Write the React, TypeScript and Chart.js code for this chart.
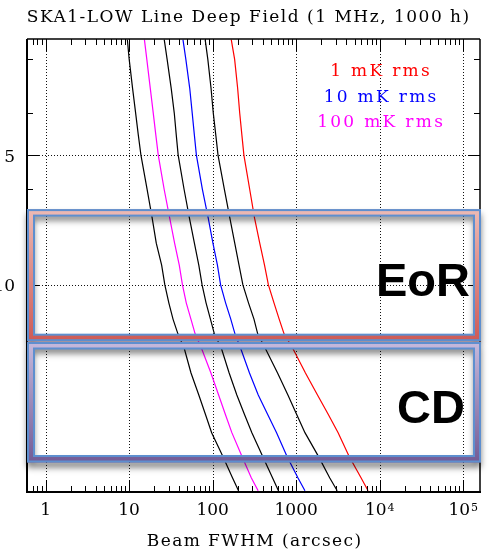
import React, { useEffect, useRef } from 'react';
import { Chart, registerables } from 'chart.js';

Chart.register(...registerables);

// ---------------- data ----------------
// redshift samples (y axis)
const Z_VALUES = [2.7, 3, 3.5, 4, 4.5, 5, 6, 7, 8, 9, 10, 11, 12, 13, 14, 16, 18, 20, 22, 25, 28, 30];

// Beam FWHM (arcsec) needed at each redshift
const FWHM_BLACK_A = [9.54, 10.03, 11.01, 11.99, 12.91, 13.86, 16.43, 18.9, 21.15, 24.53, 26.79, 29.9, 33.55, 38.5, 45.6, 55.1, 68.3, 82.3, 97.3, 132.7, 172.7, 204.1];
const FWHM_100MK = [15.26, 16.3, 17.94, 19.48, 20.92, 22.35, 26.28, 30.64, 35.05, 39.87, 43.54, 48.32, 54.98, 61.86, 73.34, 95.4, 117.9, 142.5, 169.8, 224.7, 290.0, 350.5];
const FWHM_BLACK_B = [26.35, 28.53, 31.93, 34.76, 36.73, 38.69, 45.5, 52.77, 60.5, 68.3, 74.8, 83.4, 94.1, 105.1, 126.9, 157.7, 194.8, 241.3, 294.9, 397.6, 520.4, 613.5];
const FWHM_10MK = [44.14, 47.8, 53.2, 57.0, 60.5, 63.9, 75.4, 88.6, 100.8, 114.1, 124.6, 142.9, 164.8, 185.4, 215.7, 276.1, 351.5, 457.4, 582.4, 777, 1048, 1273];
const FWHM_BLACK_C = [81.4, 87.6, 95.7, 101.9, 109.2, 116.0, 138.2, 160.8, 183.9, 206.9, 230.3, 268.6, 312.4, 346.7, 424.8, 598.5, 796.1, 1017, 1273, 1854, 2515, 3098];
const FWHM_1MK = [167.1, 183.4, 199.2, 211.0, 224.1, 236.7, 277.6, 317.6, 366.3, 417.8, 465.0, 542.3, 625.6, 717.5, 906, 1291, 1799, 2433, 3176, 4307, 5970, 7253];

const LEGEND_LABELS = ['1 mK rms', '10 mK rms', '100 mK rms'];

const X_MAJOR_TICKS = [1, 10, 100, 1000, 10000, 100000];
const X_TICK_LABELS = ['1', '10', '100', '1000', '10^4', '10^5'];
const Y_MAJOR_TICKS = [5, 10];
const Y_TICK_LABELS = ['5', '10'];
const Y_MINOR_TICKS = [3, 4, 6, 7, 8, 9, 20, 30];

// redshift ranges of the highlighted bands
const BAND_LABELS = ['EoR', 'CD'];
const BAND_Z_TOP = [6.67, 13.56];
const BAND_Z_BOTTOM = [13.5, 25.8];

const TITLE = 'SKA1-LOW Line Deep Field (1 MHz, 1000 h)';
const X_TITLE = 'Beam FWHM (arcsec)';

// ---------------- styles ----------------
const SERIF = '"DejaVu Serif", serif';
const BAND_STYLES = [
  { c0: '#ecbab5', c1: '#cd5a56', textRight: 10 },
  { c0: '#c6b9dc', c1: '#735b95', textRight: 15 },
];

function drawSpaced(ctx: CanvasRenderingContext2D, text: string, x: number, y: number, font: string, color: string, align: CanvasTextAlign, spacing: number) {
  ctx.save();
  ctx.font = font;
  ctx.fillStyle = color;
  ctx.textAlign = align;
  ctx.textBaseline = 'alphabetic';
  try { (ctx as any).letterSpacing = spacing + 'px'; } catch (e) { /* ignore */ }
  ctx.fillText(text, x + (align === 'center' ? spacing / 2 : 0), y);
  ctx.restore();
}

const framePlugin = {
  id: 'framePlugin',
  beforeDatasetsDraw(chart: any) {
    const { ctx, chartArea: a, scales } = chart;
    const xs = scales.x, ys = scales.y;
    ctx.save();
    ctx.strokeStyle = '#111';
    ctx.lineWidth = 1;
    ctx.setLineDash([1, 2]);
    for (const v of X_MAJOR_TICKS) {
      const px = Math.round(xs.getPixelForValue(v)) + 0.5;
      ctx.beginPath(); ctx.moveTo(px, a.top); ctx.lineTo(px, a.bottom); ctx.stroke();
    }
    for (const v of Y_MAJOR_TICKS) {
      const py = Math.round(ys.getPixelForValue(v)) + 0.5;
      ctx.beginPath(); ctx.moveTo(a.left, py); ctx.lineTo(a.right, py); ctx.stroke();
    }
    ctx.restore();
  },
  afterDatasetsDraw(chart: any) {
    const { ctx, chartArea: a, scales } = chart;
    const xs = scales.x, ys = scales.y;

    // ---- axis frame ----
    ctx.save();
    ctx.strokeStyle = '#000';
    ctx.lineWidth = 2;
    ctx.beginPath(); ctx.moveTo(a.left, a.top); ctx.lineTo(a.left, a.bottom + 1); ctx.stroke();
    ctx.beginPath(); ctx.moveTo(a.left - 1, a.bottom); ctx.lineTo(a.right + 1, a.bottom); ctx.stroke();
    ctx.lineWidth = 1.5;
    ctx.beginPath(); ctx.moveTo(a.left, a.top); ctx.lineTo(a.right, a.top); ctx.stroke();
    ctx.beginPath(); ctx.moveTo(a.right, a.top); ctx.lineTo(a.right, a.bottom); ctx.stroke();

    // ---- ticks ----
    ctx.lineWidth = 1;
    const xMinor: number[] = [];
    for (let d = -1; d <= 5; d++) {
      for (let m = 2; m <= 9; m++) {
        const v = m * Math.pow(10, d);
        if (v > xs.min && v < xs.max) xMinor.push(v);
      }
    }
    const vtick = (v: number, len: number) => {
      const px = Math.round(xs.getPixelForValue(v)) + 0.5;
      ctx.beginPath(); ctx.moveTo(px, a.bottom); ctx.lineTo(px, a.bottom - len); ctx.stroke();
      ctx.beginPath(); ctx.moveTo(px, a.top); ctx.lineTo(px, a.top + len); ctx.stroke();
    };
    xMinor.forEach(v => vtick(v, 6));
    X_MAJOR_TICKS.forEach(v => vtick(v, 12));
    const htick = (v: number, len: number) => {
      const py = Math.round(ys.getPixelForValue(v)) + 0.5;
      ctx.beginPath(); ctx.moveTo(a.left, py); ctx.lineTo(a.left + len, py); ctx.stroke();
      ctx.beginPath(); ctx.moveTo(a.right, py); ctx.lineTo(a.right - len, py); ctx.stroke();
    };
    Y_MINOR_TICKS.forEach(v => htick(v, 6));
    Y_MAJOR_TICKS.forEach(v => htick(v, 12));
    ctx.restore();

    // ---- bands ----
    const L = a.left, R = a.right + 1;
    const side = 7, vert = 6.5;
    for (let i = 0; i < BAND_LABELS.length; i++) {
      const st = BAND_STYLES[i];
      const top = ys.getPixelForValue(BAND_Z_TOP[i]);
      const bottom = ys.getPixelForValue(BAND_Z_BOTTOM[i]);
      ctx.save();
      ctx.shadowColor = 'rgba(0,0,0,0.5)';
      ctx.shadowBlur = 6;
      ctx.shadowOffsetY = 5;
      const g = ctx.createLinearGradient(0, top, 0, bottom);
      g.addColorStop(0, st.c0);
      g.addColorStop(1, st.c1);
      ctx.fillStyle = g;
      ctx.beginPath();
      ctx.rect(L, top, R - L, bottom - top);
      ctx.rect(L + side, top + vert, R - L - 2 * side, bottom - top - 2 * vert);
      ctx.fill('evenodd');
      ctx.restore();
      ctx.save();
      ctx.strokeStyle = '#5e8fcf';
      ctx.lineWidth = 2;
      ctx.strokeRect(L + 1, top + 1, R - L - 2, bottom - top - 2);
      ctx.strokeRect(L + side, top + vert, R - L - 2 * side, bottom - top - 2 * vert);
      ctx.restore();
      // band label
      ctx.save();
      ctx.font = 'bold 47px "Liberation Sans", Arial, sans-serif';
      ctx.fillStyle = '#000';
      ctx.textAlign = 'right';
      ctx.textBaseline = 'alphabetic';
      ctx.fillText(BAND_LABELS[i], a.right - st.textRight, (top + bottom) / 2 + 21);
      ctx.restore();
    }

    // ---- legend text ----
    const legendColors = ['#ff0000', '#0000ff', '#ff00ff'];
    LEGEND_LABELS.forEach((t, i) => {
      drawSpaced(ctx, t, 380, 76 + i * 25.5, '17px ' + SERIF, legendColors[i], 'center', 2.3);
    });

    // ---- tick labels ----
    const tickFont = '17px ' + SERIF;
    X_MAJOR_TICKS.forEach((v, i) => {
      const px = xs.getPixelForValue(v);
      const lab = X_TICK_LABELS[i];
      const base = 515;
      if (lab.includes('^')) {
        const [b, e] = lab.split('^');
        ctx.save();
        ctx.font = tickFont;
        const wb = ctx.measureText(b).width;
        ctx.font = '11px ' + SERIF;
        const we = ctx.measureText(e).width;
        const start = px - (wb + we + 1) / 2;
        ctx.fillStyle = '#000';
        ctx.textAlign = 'left';
        ctx.font = tickFont;
        ctx.fillText(b, start, base);
        ctx.font = '11px ' + SERIF;
        ctx.fillText(e, start + wb + 1, base - 4.5);
        ctx.restore();
      } else {
        drawSpaced(ctx, lab, px, base, tickFont, '#000', 'center', 0);
      }
    });
    Y_MAJOR_TICKS.forEach((v, i) => {
      const py = ys.getPixelForValue(v);
      drawSpaced(ctx, Y_TICK_LABELS[i], 15, py + 6.5, tickFont, '#000', 'right', 0);
    });

    // ---- titles ----
    drawSpaced(ctx, TITLE, 248, 22, '17px ' + SERIF, '#000', 'center', 1.5);
    drawSpaced(ctx, X_TITLE, 254, 546, '17px ' + SERIF, '#000', 'center', 1.4);
  },
};

export default function App() {
  const canvasRef = useRef<HTMLCanvasElement | null>(null);

  useEffect(() => {
    if (!canvasRef.current) return;
    const series = [
      { values: FWHM_BLACK_A, color: '#000000' },
      { values: FWHM_100MK, color: '#ff00ff' },
      { values: FWHM_BLACK_B, color: '#000000' },
      { values: FWHM_10MK, color: '#0000ff' },
      { values: FWHM_BLACK_C, color: '#000000' },
      { values: FWHM_1MK, color: '#ff0000' },
    ];
    const chart = new Chart(canvasRef.current, {
      type: 'scatter',
      data: {
        datasets: series.map(s => ({
          data: Z_VALUES.map((z, i) => ({ x: s.values[i], y: z })),
          showLine: true,
          borderColor: s.color,
          backgroundColor: s.color,
          borderWidth: 1.2,
          pointRadius: 0,
          tension: 0,
        })),
      },
      options: {
        animation: false,
        responsive: false,
        events: [],
        layout: { padding: { left: 27, top: 39, right: 13, bottom: 59 } },
        plugins: {
          legend: { display: false },
          tooltip: { enabled: false },
          title: { display: false },
        },
        scales: {
          x: { type: 'logarithmic', min: 0.631, max: 158500, display: false },
          y: { type: 'logarithmic', min: 2.69, max: 30.2, reverse: true, display: false },
        },
      },
      plugins: [framePlugin],
    } as any);
    return () => chart.destroy();
  }, []);

  return (
    <div style={{ position: 'absolute', left: 0, top: 0, width: 493, height: 551, background: '#fff' }}>
      <canvas ref={canvasRef} width={493} height={551} style={{ display: 'block' }} />
    </div>
  );
}
